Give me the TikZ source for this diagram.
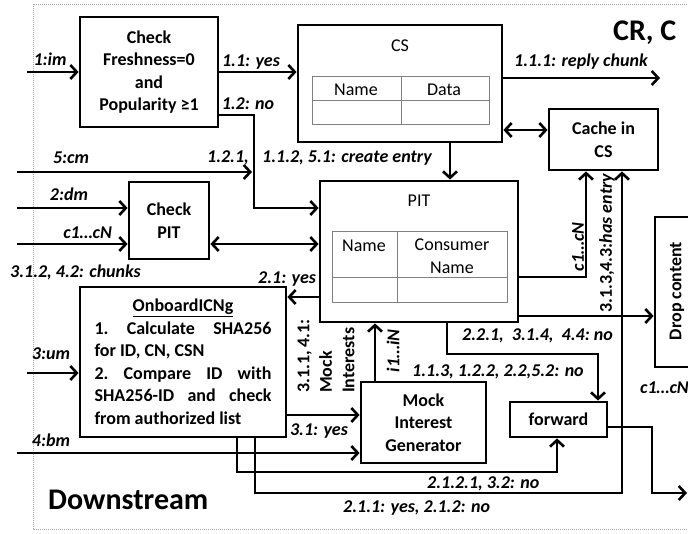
\documentclass[tikz,border=0pt]{standalone}
\usepackage{fontspec}
\setmainfont{Carlito}
\usetikzlibrary{arrows.meta}
\newcommand\myfs{\fontsize{18}{22.5}\selectfont}
\newcommand\mybig{\fontsize{30}{34}\selectfont}
\tikzset{
  box/.style={draw, line width=2.8pt, inner sep=0pt, align=center, font=\bfseries\myfs},
  arr/.style={line width=2.6pt, -{Straight Barb[length=6.5pt,width=14pt]}},
  darr/.style={line width=2.6pt, {Straight Barb[length=6.5pt,width=14pt]}-{Straight Barb[length=6.5pt,width=14pt]}},
  lbl/.style={font=\bfseries\itshape\myfs, inner sep=0pt},
  bl/.style={font=\bfseries\myfs, inner sep=0pt},
  plain/.style={font=\myfs, inner sep=0pt, align=center},
  tab/.style={draw=gray, line width=1pt},
  bigt/.style={font=\bfseries\mybig, inner sep=0pt},
}
\begin{document}
\begin{tikzpicture}[x=1pt,y=-1pt]
\useasboundingbox (0,0) rectangle (688,534);
\clip (0,0) rectangle (688,534);
\draw[gray!70, line width=0.8pt, dash pattern=on 1pt off 1pt] (33,4) rectangle (720,529);

% boxes
\node[box, minimum width=138pt, minimum height=110pt] (cf) at (149,72) {Check\\Freshness=0\\and\\Popularity ≥1};
\node[box, minimum width=204pt, minimum height=117pt] (cs) at (400,83.5) {};
\node[box, minimum width=109pt, minimum height=61pt] (cache) at (603.5,139.5) {Cache in\\CS};
\node[box, minimum width=198pt, minimum height=141pt] (pit) at (419,251.5) {};
\node[box, minimum width=80pt, minimum height=77pt] (cpit) at (169,220.5) {Check\\PIT};
\node[box, minimum width=206pt, minimum height=150pt] (onb) at (183,362) {%
\underline{OnboardICNg}\\
\makebox[177pt][s]{1.\ \ Calculate\ \ SHA256}\\
\makebox[177pt][l]{for ID, CN, CSN}\\
\makebox[177pt][s]{2.\ \ Compare\ \ ID\ \ with}\\
\makebox[177pt][s]{SHA256-ID\ \ and\ \ check}\\
\makebox[177pt][l]{from authorized list}};
\node[box, minimum width=125pt, minimum height=81pt] (mock) at (423.5,422.5) {Mock\\Interest\\Generator};
\node[box, minimum width=97pt, minimum height=35pt] (fwd) at (558.5,419.5) {forward};
\node[box, minimum width=44pt, minimum height=150pt] (drop) at (677,292) {};
\node[bl, rotate=90] (droptxt) at (677,291) {Drop content};

% tables
\node[plain] (cst) at (400,46) {CS};
\draw[tab] (312,77) rectangle (489,125);
\draw[tab] (312,101) -- (489,101);
\draw[tab] (401,77) -- (401,125);
\node[plain] (csn) at (356,90) {Name};
\node[plain] (csd) at (444,90) {Data};

\node[plain] (pitt) at (419,201) {PIT};
\draw[tab] (332,232) rectangle (507,303);
\draw[tab] (332,278) -- (507,278);
\draw[tab] (397,232) -- (397,303);
\node[plain] (pitn) at (364,246) {Name};
\node[plain] (pitc) at (452,256) {Consumer\\Name};

% free ends
\coordinate (im) at (27,72);
\coordinate (cm) at (17,172);
\coordinate (cmend) at (252,172);
\coordinate (rc) at (660,78);
\coordinate (dm) at (17,208);
\coordinate (cc) at (17,244);
\coordinate (um) at (27,373);
\coordinate (bm) at (17,453);
\coordinate (outr) at (687,493);

% connectors
\draw[arr] (im) -- (cf.west);
\draw[arr] (cf.east) -- (cs.west |- cf.east);
\draw[arr] ([yshift=-43pt]cf.east) -| (254,208) -- (pit.west |- 0,208);
\draw[arr] (cm) -- (cmend);
\draw[arr] ([xshift=50pt]cs.south) -- ([xshift=31pt]pit.north);
\draw[arr] ([yshift=5.5pt]cs.east) -- (rc);
\draw[darr] ([yshift=-46.5pt]cs.east) -- (cache.west |- 0,130);
\draw[arr] (dm) -- (cpit.west |- dm);
\draw[arr] (cc) -- (cpit.west |- cc);
\draw[darr] (cpit.east |- cc) -- (pit.west |- cc);
\draw[arr] (pit.west |- 0,297) -- (onb.east |- 0,297);
\draw[arr] (um) -- (onb.west |- um);
\draw[arr] (bm) -- (mock.west |- bm);
\draw[arr] (onb.east |- 0,415) -- (mock.west |- 0,415);
\draw[arr] (mock.north -| 375,0) -- (pit.south -| 375,0);
\draw[arr] (pit.east |- 0,277) -| (cache.south -| 586,0);
\draw[arr] (onb.south -| 255,0) |- (622,493) -- (cache.south -| 622,0);
\draw[arr] (onb.south -| 237,0) |- (557,472) -- (fwd.south -| 557,0);
\draw[arr] (pit.south -| 447,0) |- (598,354) -- (fwd.north -| 598,0);
\draw[arr] (pit.east |- 0,316) -- (drop.west |- 0,316);
\draw[arr] (fwd.east |- 0,427) -| (652,493) -- (outr);

% labels
\node[lbl] (l1) at (50,59) {1:im};
\node[lbl] (l2) at (251,62) {1.1: yes};
\node[lbl] (l3) at (248,104) {1.2: no};
\node[lbl] (l4) at (71,158) {5:cm};
\node[lbl] (l5) at (228,158) {1.2.1,};
\node[lbl, anchor=west] (l6) at (262,158) {1.1.2, 5.1: create entry};
\node[lbl, anchor=west] (l7) at (514,62) {1.1.1: reply chunk};
\node[lbl] (l8) at (69,194) {2:dm};
\node[lbl, anchor=east] (l9) at (112,233) {c1…cN};
\node[lbl, anchor=west] (l10) at (10,272) {3.1.2, 4.2: chunks};
\node[lbl, anchor=west] (l11) at (258,279) {2.1: yes};
\node[lbl] (l12) at (51,354) {3:um};
\node[lbl] (l13) at (51,440) {4:bm};
\node[lbl] (l14) at (319,431) {3.1: yes};
\node[lbl, anchor=west] (l15) at (462,336) {2.2.1,\ \ 3.1.4,\ \ 4.4:\ no};
\node[lbl, anchor=west] (l16) at (412,372) {1.1.3, 1.2.2, 2.2,5.2: no};
\node[lbl, anchor=west] (l17) at (427,484) {2.1.2.1, 3.2: no};
\node[lbl, anchor=west] (l18) at (343,508) {2.1.1: yes, 2.1.2: no};
\node[lbl, anchor=west] (l19) at (640,388) {c1…cN};
\node[bl, rotate=90, align=left, font=\bfseries\myfs\linespread{0.95}] (l20) at (326,356) {3.1.1, 4.1:\\Mock\\Interests};
\node[lbl, rotate=90] (l21) at (393,351) {i1…iN};
\node[lbl, rotate=90] (l22) at (578,247) {c1…cN};
\node[bl, rotate=90] (l23) at (607,243) {3.1.3,4.3:\textit{has entry}};
\node[bigt, anchor=west] (l24) at (48,500) {Downstream};
\node[bigt, anchor=west] (l25) at (613,33) {CR, C};
\end{tikzpicture}
\end{document}
